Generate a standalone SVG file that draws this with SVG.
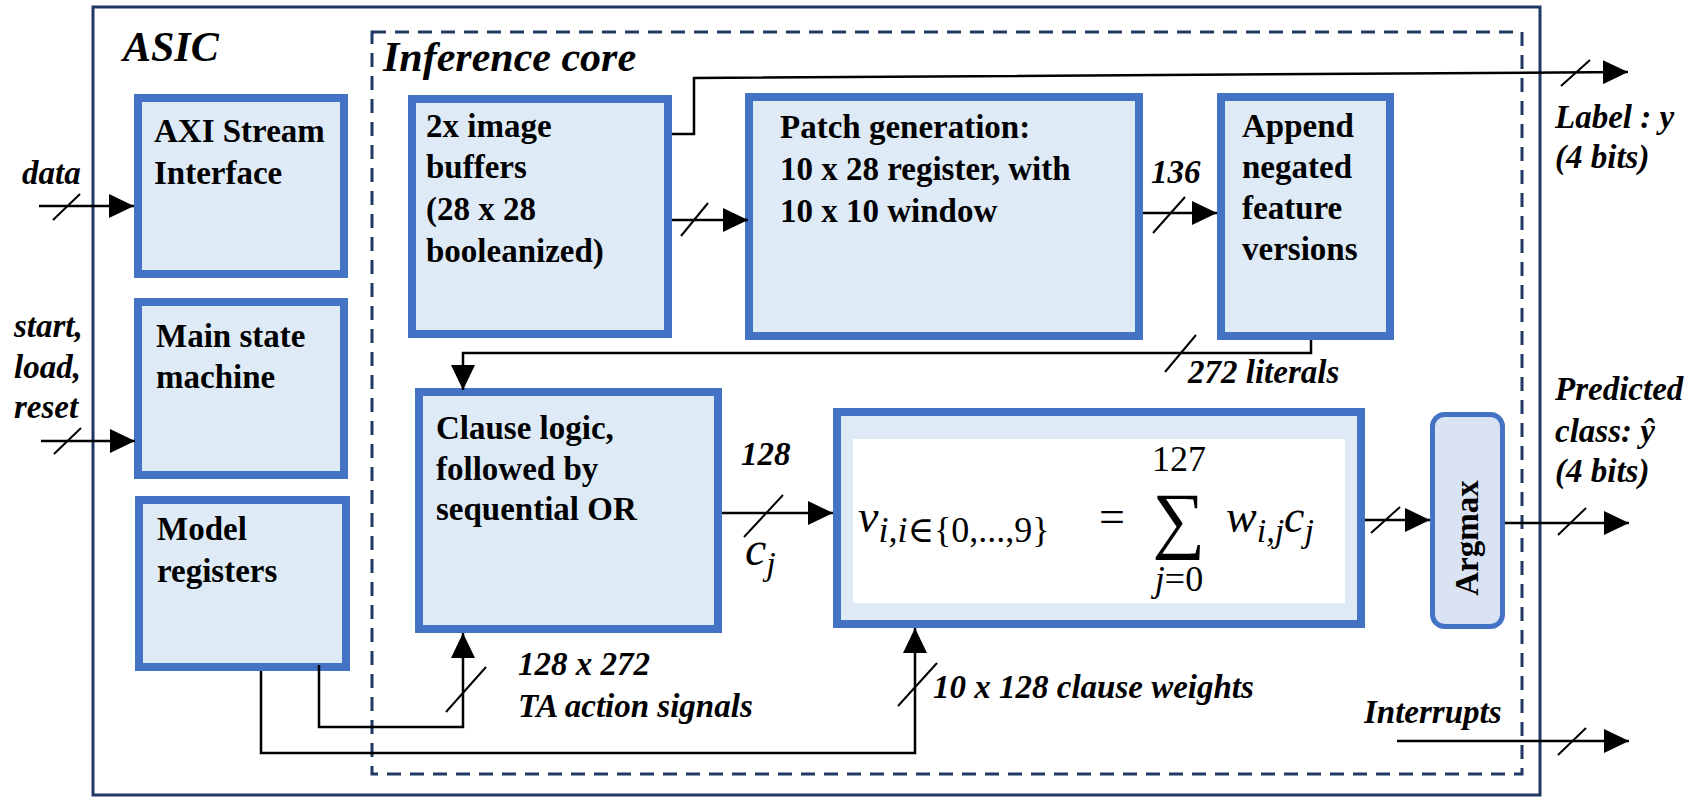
<svg xmlns="http://www.w3.org/2000/svg" width="1700" height="804" viewBox="0 0 1700 804">
<defs>
<marker id="ah" viewBox="0 0 25 24" refX="25" refY="12" markerWidth="25" markerHeight="24" markerUnits="userSpaceOnUse" orient="auto">
<path d="M0,0 L25,12 L0,24 Z" fill="#000"/>
</marker>
<style>
.box{fill:#DEEBF7;stroke:#4472C4;stroke-width:8}
.t{font-family:"Liberation Serif","Times New Roman",serif;font-weight:bold;font-size:33px;fill:#000}
.l{font-family:"Liberation Serif","Times New Roman",serif;font-weight:bold;font-style:italic;font-size:33px;fill:#000}
.h{font-family:"Liberation Serif","Times New Roman",serif;font-weight:bold;font-style:italic;font-size:42px;fill:#000}
.m{font-family:"Liberation Serif","DejaVu Serif",serif;fill:#000}
.a{fill:none;stroke:#000;stroke-width:2.5;marker-end:url(#ah)}
.s{stroke:#000;stroke-width:2}
</style>
</defs>
<rect width="1700" height="804" fill="#fff"/>
<g id="asic">
<rect x="93" y="7" width="1447" height="788" fill="none" stroke="#1F3864" stroke-width="3"/>
<text class="h" x="123" y="61">ASIC</text>
</g>
<g id="inference-core">
<rect x="372" y="32" width="1150" height="742" fill="none" stroke="#1F3864" stroke-width="3" stroke-dasharray="14 9"/>
<text class="h" x="383" y="71">Inference core</text>
</g>
<g id="axi">
<rect class="box" x="138" y="98" width="206" height="176"/>
<text class="t" x="154" y="142">AXI Stream</text>
<text class="t" x="154" y="184">Interface</text>
</g>
<g id="fsm">
<rect class="box" x="138" y="302" width="206" height="173"/>
<text class="t" x="156" y="347">Main state</text>
<text class="t" x="156" y="388">machine</text>
</g>
<g id="model">
<rect class="box" x="139" y="500" width="207" height="167"/>
<text class="t" x="157" y="540">Model</text>
<text class="t" x="157" y="582">registers</text>
</g>
<g id="image">
<rect class="box" x="412" y="99" width="256" height="235"/>
<text class="t" x="426" y="137">2x image</text>
<text class="t" x="426" y="178">buffers</text>
<text class="t" x="426" y="220">(28 x 28</text>
<text class="t" x="426" y="262">booleanized)</text>
</g>
<g id="patch">
<rect class="box" x="749" y="97" width="390" height="239"/>
<text class="t" x="780" y="138">Patch generation:</text>
<text class="t" x="780" y="180">10 x 28 register, with</text>
<text class="t" x="780" y="222">10 x 10 window</text>
</g>
<g id="append">
<rect class="box" x="1221" y="97" width="169" height="239"/>
<text class="t" x="1242" y="137">Append</text>
<text class="t" x="1242" y="178">negated</text>
<text class="t" x="1242" y="219">feature</text>
<text class="t" x="1242" y="260">versions</text>
</g>
<g id="clause">
<rect class="box" x="419" y="392" width="299" height="237"/>
<text class="t" x="436" y="439">Clause logic,</text>
<text class="t" x="436" y="480">followed by</text>
<text class="t" x="436" y="520">sequential OR</text>
</g>
<g id="sum">
<rect class="box" x="837" y="412" width="524" height="212"/>
<rect x="853" y="439" width="492" height="164" fill="#fff"/>
<text class="m" x="858" y="532" font-size="46" font-style="italic">v<tspan font-size="36" dy="10">i,i</tspan><tspan font-size="36" font-style="normal">∈{0,...,9}</tspan></text>
<text class="m" x="1099" y="532" font-size="46">=</text>
<text class="m" x="1179" y="544" font-size="74" text-anchor="middle">∑</text>
<text class="m" x="1179" y="471" font-size="36" text-anchor="middle">127</text>
<text class="m" x="1179" y="591" font-size="36" text-anchor="middle"><tspan font-style="italic">j</tspan>=0</text>
<text class="m" x="1226" y="532" font-size="46" font-style="italic">w<tspan font-size="34" dy="10">i,j</tspan><tspan dy="-10">c</tspan><tspan font-size="34" dy="10">j</tspan></text>
</g>
<g id="argmax">
<rect x="1432.5" y="414.5" width="70" height="212" rx="12" fill="#DAE3F3" stroke="#4472C4" stroke-width="5"/>
<text class="t" x="0" y="0" font-size="32" text-anchor="middle" transform="translate(1478,538) rotate(-90)">Argmax</text>
</g>
<g id="connectors">
<line class="a" x1="39" y1="206" x2="134" y2="206"/>
<line class="a" x1="41" y1="441" x2="135" y2="441"/>
<line class="a" x1="672" y1="220" x2="748" y2="220"/>
<line class="a" x1="1143" y1="213" x2="1217" y2="213"/>
<polyline class="a" points="672,134 694,134 694,78 1628,72"/>
<polyline class="a" points="1311,340 1311,353 463,353 463,390"/>
<line class="a" x1="722" y1="513" x2="833" y2="513"/>
<line class="a" x1="1365" y1="520" x2="1430" y2="520"/>
<line class="a" x1="1505" y1="523" x2="1629" y2="523"/>
<polyline class="a" points="319,665 319,727 463,727 463,633"/>
<polyline class="a" points="261,671 261,753 915,753 915,628"/>
<line class="a" x1="1397" y1="741" x2="1629" y2="741"/>
<line class="s" x1="53" y1="220" x2="80" y2="194"/>
<line class="s" x1="54" y1="454" x2="81" y2="428"/>
<line class="s" x1="681" y1="236" x2="708" y2="203"/>
<line class="s" x1="1153" y1="233" x2="1185" y2="197"/>
<line class="s" x1="1561" y1="86" x2="1590" y2="60"/>
<line class="s" x1="1165" y1="372" x2="1196" y2="335"/>
<line class="s" x1="744" y1="537" x2="783" y2="495"/>
<line class="s" x1="1371" y1="533" x2="1400" y2="507"/>
<line class="s" x1="1558" y1="535" x2="1586" y2="508"/>
<line class="s" x1="1558" y1="755" x2="1586" y2="728"/>
<line class="s" x1="446" y1="712" x2="486" y2="667"/>
<line class="s" x1="898" y1="706" x2="937" y2="663"/>
</g>
<g id="labels">
<text class="l" x="22" y="184">data</text>
<text class="l" x="14" y="337">start,</text>
<text class="l" x="14" y="378">load,</text>
<text class="l" x="14" y="418">reset</text>
<text class="l" x="1151" y="183">136</text>
<text class="l" x="1188" y="383">272 literals</text>
<text class="l" x="1555" y="128">Label : y</text>
<text class="l" x="1555" y="168">(4 bits)</text>
<text class="l" x="741" y="465">128</text>
<text class="m" x="745" y="565" font-size="48" font-style="italic">c<tspan font-size="34" dy="10">j</tspan></text>
<text class="l" x="518" y="675">128 x 272</text>
<text class="l" x="518" y="717">TA action signals</text>
<text class="l" x="933" y="698">10 x 128 clause weights</text>
<text class="l" x="1364" y="723">Interrupts</text>
<text class="l" x="1555" y="400">Predicted</text>
<text class="l" x="1555" y="442">class: ŷ</text>
<text class="l" x="1555" y="482">(4 bits)</text>
</g>
</svg>
